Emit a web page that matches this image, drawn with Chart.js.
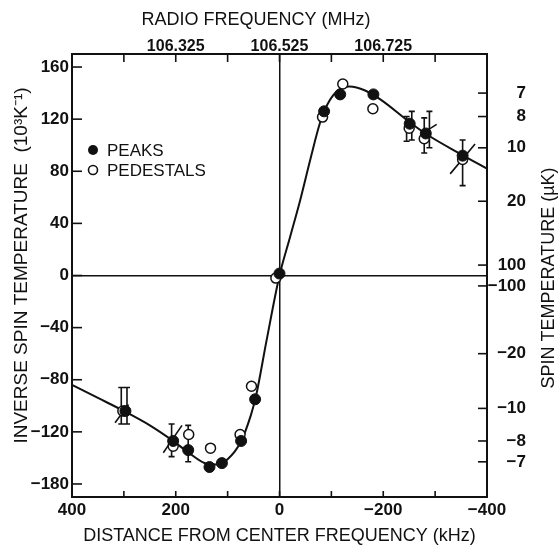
<!DOCTYPE html>
<html><head><meta charset="utf-8">
<script src="https://cdn.jsdelivr.net/npm/chart.js@4.4.1/dist/chart.umd.min.js"></script>
<style>html,body{margin:0;padding:0;background:#fff}#wrap{width:559px;height:548px}</style>
</head><body><div id="wrap"><canvas id="c" width="559" height="548"></canvas></div>
<script>
// ---- data ----
const peaksX = [297, 205, 176, 135, 111, 74, 47, 0, -86, -117, -181, -251, -282, -353];
const peaksY = [-104, -127, -134, -147, -144, -127, -95, 1.5, 126, 139, 139, 116.5, 109, 92];
const pedX = [302, 205, 175, 133, 76, 54, 7, -83, -122, -180, -250, -279, -353];
const pedY = [-104, -131, -122, -132.5, -122, -85, -2, 121.6, 147, 128, 113, 105, 89];
const fitX = [400, 350, 300, 250, 205, 175, 140, 120, 100, 75, 55, 45, 25, 0, -20, -40, -60, -78, -92, -110, -135, -165, -195, -250, -285, -350, -400];
const fitY = [-84, -94, -104, -115, -127, -136, -144.5, -145, -141, -128, -107, -92, -50, 0, 29, 58, 90, 117, 131, 141, 145, 142, 135, 118, 108, 93, 82];
const errX = [305, 294, 208, 176, -245, -255, -279, -289, -353];
const errLo = [-114, -114, -139, -143, 103, 104, 94, 98, 69];
const errHi = [-86, -86, -114, -115, 122, 126, 121, 126, 104];
const slashX1 = [317, 224, -329, -287];
const slashY1 = [-113, -136, 78, 112];
const slashX2 = [291, 188, -377, -303];
const slashY2 = [-99, -115, 101, 116];
const xTickValues = [400, 300, 200, 100, 0, -100, -200, -300, -400];
const xLabelValues = [400, 200, 0, -200, -400];
const xLabels = ['400', '200', '0', '\u2212200', '\u2212400'];
const topLabelValues = [200, 0, -200];
const topLabels = ['106.325', '106.525', '106.725'];
const yTickValues = [160, 120, 80, 40, 0, -40, -80, -120, -160];
const yLabels = ['160', '120', '80', '40', '0', '\u221240', '\u221280', '\u2212120', '\u2212180'];
const rightTickPos = [140, 122, 98, 57, 8, -8, -60, -102, -127, -143];
const rightLabels = ['7', '8', '10', '20', '100', '\u2212100', '\u221220', '\u221210', '\u22128', '\u22127'];
const seriesNames = ['PEAKS', 'PEDESTALS'];

const INK = '#111';
const FONT = "'Liberation Sans', Arial, sans-serif";

const pts = (xs, ys) => xs.map((x, i) => ({x, y: ys[i]}));

const whiteBg = {
  id: 'whiteBg',
  beforeDraw(chart) {
    const c = chart.ctx; c.save(); c.fillStyle = '#fff';
    c.fillRect(0, 0, chart.width, chart.height); c.restore();
  }
};

const errorBars = {
  id: 'errorBars',
  beforeDatasetsDraw(chart) {
    const {ctx: c, scales: {x, y}} = chart;
    c.save(); c.strokeStyle = INK; c.lineWidth = 1.6;
    errX.forEach((v, i) => {
      const px = x.getPixelForValue(v), p1 = y.getPixelForValue(errLo[i]), p2 = y.getPixelForValue(errHi[i]);
      c.beginPath(); c.moveTo(px, p1); c.lineTo(px, p2);
      c.moveTo(px - 3, p1); c.lineTo(px + 3, p1);
      c.moveTo(px - 3, p2); c.lineTo(px + 3, p2); c.stroke();
    });
    slashX1.forEach((v, i) => {
      c.beginPath();
      c.moveTo(x.getPixelForValue(v), y.getPixelForValue(slashY1[i]));
      c.lineTo(x.getPixelForValue(slashX2[i]), y.getPixelForValue(slashY2[i]));
      c.stroke();
    });
    c.restore();
  }
};

const decor = {
  id: 'decor',
  afterDraw(chart) {
    const {ctx: c, chartArea: a, scales} = chart;
    c.save(); c.strokeStyle = INK; c.lineWidth = 1.6;
    // inward tick marks
    scales.x.ticks.forEach(t => { const p = scales.x.getPixelForValue(t.value); c.beginPath(); c.moveTo(p, a.bottom); c.lineTo(p, a.bottom - 6); c.stroke(); });
    scales.x2.ticks.forEach(t => { const p = scales.x2.getPixelForValue(t.value); c.beginPath(); c.moveTo(p, a.top); c.lineTo(p, a.top + 8); c.stroke(); });
    scales.y.ticks.forEach(t => { const p = scales.y.getPixelForValue(t.value); c.beginPath(); c.moveTo(a.left, p); c.lineTo(a.left + 10, p); c.stroke(); });
    scales.y2.ticks.forEach(t => { const p = scales.y2.getPixelForValue(t.value); c.beginPath(); c.moveTo(a.right, p); c.lineTo(a.right - 9, p); c.stroke(); });
    // titles
    c.fillStyle = INK; c.textAlign = 'center'; c.textBaseline = 'middle';
    c.font = '18px ' + FONT;
    c.fillText('RADIO FREQUENCY (MHz)', 256, 20);
    c.save(); c.translate(21.5, 265.5); c.rotate(-Math.PI / 2);
    c.font = '19px ' + FONT;
    c.fillText('INVERSE SPIN TEMPERATURE  (10\u00b3K\u207b\u00b9)', 0, 0); c.restore();
    c.save(); c.translate(549, 278); c.rotate(-Math.PI / 2);
    c.font = '18px ' + FONT;
    c.fillText('SPIN TEMPERATURE (\u00b5K)', 0, 0); c.restore();
    // legend
    c.beginPath(); c.arc(93, 150, 5, 0, Math.PI * 2); c.fillStyle = INK; c.fill();
    c.beginPath(); c.arc(93, 170, 4.5, 0, Math.PI * 2); c.fillStyle = '#fff'; c.fill(); c.stroke();
    c.fillStyle = INK; c.textAlign = 'left'; c.font = '17px ' + FONT;
    c.fillText(seriesNames[0], 107, 151);
    c.fillText(seriesNames[1], 107, 171);
    c.restore();
  }
};

const tickFont = {family: FONT, size: 17, weight: 'bold'};

new Chart(document.getElementById('c'), {
  data: {
    datasets: [
      {type: 'line', data: pts(fitX, fitY), borderColor: INK, borderWidth: 2, pointRadius: 0, cubicInterpolationMode: 'monotone', fill: false, order: 3},
      {type: 'scatter', label: seriesNames[1], data: pts(pedX, pedY), pointRadius: 5, pointBackgroundColor: '#fff', pointBorderColor: INK, pointBorderWidth: 1.5, order: 2},
      {type: 'scatter', label: seriesNames[0], data: pts(peaksX, peaksY), pointRadius: 5.5, pointBackgroundColor: INK, pointBorderColor: INK, pointBorderWidth: 1, order: 1}
    ]
  },
  options: {
    responsive: false, animation: false, devicePixelRatio: 1,
    layout: {padding: {left: 0, right: 33, top: 0, bottom: 0}},
    plugins: {legend: {display: false}, tooltip: {enabled: false}},
    scales: {
      x: {
        type: 'linear', position: 'bottom', min: -400, max: 400, reverse: true,
        afterBuildTicks: s => { s.ticks = xTickValues.map(v => ({value: v})); },
        afterFit: s => { s.height = 51; },
        ticks: {color: INK, font: tickFont, padding: 3, maxRotation: 0, autoSkip: false,
          callback: v => { const i = xLabelValues.indexOf(v); return i < 0 ? '' : xLabels[i]; }},
        grid: {drawTicks: false, lineWidth: 1.5, color: c => (c.tick && c.tick.value === 0) ? INK : 'rgba(0,0,0,0)'},
        border: {display: true, color: INK, width: 2},
        title: {display: true, text: 'DISTANCE FROM CENTER FREQUENCY (kHz)', color: INK, font: {family: FONT, size: 18}, padding: {top: 0, bottom: 1}}
      },
      x2: {
        type: 'linear', position: 'top', min: -400, max: 400, reverse: true,
        afterBuildTicks: s => { s.ticks = xTickValues.map(v => ({value: v})); },
        afterFit: s => { s.height = 54; },
        ticks: {color: INK, font: {family: FONT, size: 16, weight: 'bold'}, padding: -2, maxRotation: 0, autoSkip: false,
          callback: v => { const i = topLabelValues.indexOf(v); return i < 0 ? '' : topLabels[i]; }},
        grid: {display: false, drawTicks: false},
        border: {display: true, color: INK, width: 2}
      },
      y: {
        type: 'linear', position: 'left', min: -170, max: 170,
        afterBuildTicks: s => { s.ticks = yTickValues.map(v => ({value: v})); },
        afterFit: s => { s.width = 72; },
        ticks: {color: INK, font: tickFont, padding: 3, autoSkip: false,
          callback: v => { const i = yTickValues.indexOf(v); return i < 0 ? '' : yLabels[i]; }},
        grid: {drawTicks: false, lineWidth: 1.5, color: c => (c.tick && c.tick.value === 0) ? INK : 'rgba(0,0,0,0)'},
        border: {display: true, color: INK, width: 2}
      },
      y2: {
        type: 'linear', position: 'right', min: -170, max: 170,
        afterBuildTicks: s => { s.ticks = rightTickPos.map(v => ({value: v})); },
        afterFit: s => { s.width = 39; },
        ticks: {color: INK, font: tickFont, padding: 3, autoSkip: false, crossAlign: 'far',
          callback: v => { const i = rightTickPos.indexOf(v); return i < 0 ? '' : rightLabels[i]; }},
        grid: {display: false, drawTicks: false},
        border: {display: true, color: INK, width: 2}
      }
    }
  },
  plugins: [whiteBg, errorBars, decor]
});
</script>
</body></html>
